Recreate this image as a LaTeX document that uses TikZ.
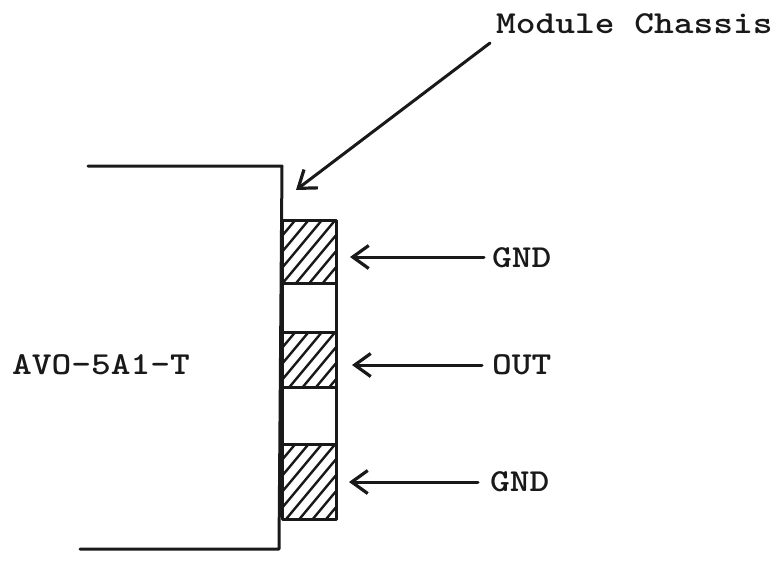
\documentclass[tikz,border=0pt]{standalone}
\usepackage{fontspec}
\usepackage{graphicx}
\usetikzlibrary{arrows.meta}
\newcommand{\labeltext}[1]{\scalebox{1.175}[1]{\ttfamily\bfseries\fontsize{32}{32}\selectfont #1}}
\tikzset{
  x=1pt,y=-1pt,
  wire/.style={line width=3pt,line cap=round,line join=round,black!90},
  pointer/.style={wire,-{Straight Barb[length=16pt,width=23pt,line width=3.2pt]}},
  label/.style={inner sep=0pt,anchor=base west,black!90},
  hatchline/.style={line width=2.4pt,black!90}
}
\begin{document}
\begin{tikzpicture}
\useasboundingbox (0,0) rectangle (774,563);
\fill[white] (0,0) rectangle (774,563);
% chassis
\coordinate (ct) at (88,166);
\coordinate (cc) at (282,166);
\coordinate (cb) at (279,549);
\coordinate (cbl) at (80,549);
\draw[wire] (ct) -- (cc) -- (cb) -- (cbl);
% hatched pads
\foreach \a/\b in {220/283,332/387,444/519}{
  \begin{scope}
    \clip (282,\a) rectangle (336,\b);
    \foreach \k in {-64,-48,...,400}{
      \draw[hatchline] (282,\k+\a) -- ++(60,-72);
    }
  \end{scope}
}
\draw[wire] (282,220) rectangle (336,519);
\draw[wire] (282,283) -- (336,283);
\draw[wire] (282,332) -- (336,332);
\draw[wire] (282,387) -- (336,387);
\draw[wire] (282,444) -- (336,444);
% labels
\node[label] (mod) at (496,33) {\labeltext{Module Chassis}};
\node[label] (avo) at (12,374) {\labeltext{AVO-5A1-T}};
\node[label] (g1) at (492,267) {\labeltext{GND}};
\node[label] (out) at (492,374) {\labeltext{OUT}};
\node[label] (g2) at (490,491) {\labeltext{GND}};
\coordinate (t0) at (490,43);
\coordinate (h0) at (296,190);
\coordinate (t1) at (484,257);
\coordinate (h1) at (350,257);
\coordinate (t2) at (482,365);
\coordinate (h2) at (352,365);
\coordinate (t3) at (478,482);
\coordinate (h3) at (349,482);
\draw[pointer] (t0) -- (h0);
\draw[pointer] (t1) -- (h1);
\draw[pointer] (t2) -- (h2);
\draw[pointer] (t3) -- (h3);
\end{tikzpicture}
\end{document}
